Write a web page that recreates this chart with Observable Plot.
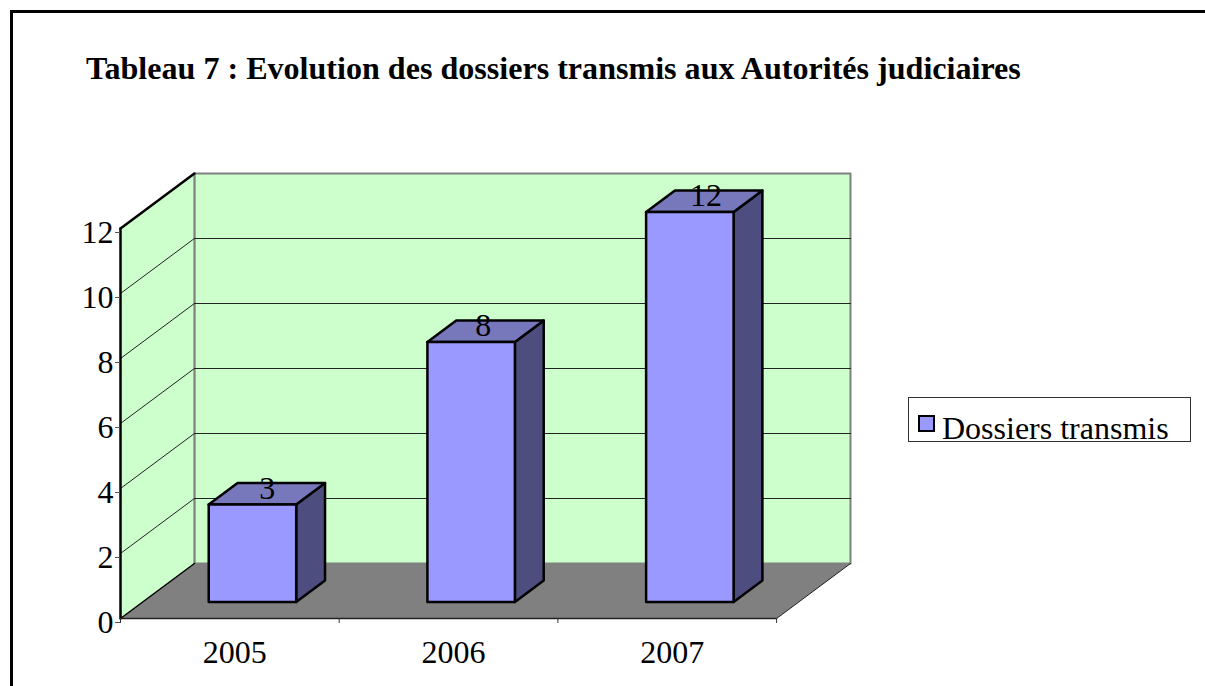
<!DOCTYPE html>
<html lang="fr">
<head>
<meta charset="utf-8">
<title>Tableau 7</title>
<script src="https://cdn.jsdelivr.net/npm/d3@7"></script>
<script src="https://cdn.jsdelivr.net/npm/@observablehq/plot@0.6"></script>
<style>
  html, body { margin: 0; padding: 0; background: #fff; overflow: hidden; }
  #page { position: relative; width: 1205px; height: 686px; font-family: "Liberation Serif", serif; color: #000; }
  #page svg { position: absolute; left: 0; top: 0; background: transparent; }
  #frame { position: absolute; left: 10px; top: 10px; width: 1300px; height: 800px; border-left: 3px solid #000; border-top: 3px solid #000; }
  #title { position: absolute; left: 86px; top: 49px; font-size: 32.1px; font-weight: bold; line-height: 38px; white-space: nowrap; }
  #legend { position: absolute; left: 908px; top: 397px; width: 281px; height: 43px; border: 1px solid #333; background: #fff; }
  #swatch { position: absolute; left: 9px; top: 17px; width: 13px; height: 13px; border: 2px solid #000; background: #9999FF; }
  #legend span { position: absolute; left: 33px; top: 12px; font-size: 32px; line-height: 36px; white-space: nowrap; }
</style>
</head>
<body>
<div id="page">
  <div id="frame"></div>
  <div id="title"></div>
  <div id="legend"><div id="swatch"></div><span></span></div>
</div>
<script>
const titleText = "Tableau 7 : Evolution des dossiers transmis aux Autorités judiciaires";
const seriesName = "Dossiers transmis";
const years = ["2005", "2006", "2007"];
const dossiers = [3, 8, 12];
const yTicks = [0, 2, 4, 6, 8, 10, 12];
const xTicks = [0, 1, 2, 3];

const depthX = 0.338, depthY = 1.692;   // chart depth in category / value units
const barWidth = 0.4, barStart = 0.302; // along a category
const zNear = 0.3, zFar = 0.69;         // along the depth
const labelNudge = [0, -0.012, 0.006];  // sideways shift of each value label

const C = {wall: "#CCFFCC", floor: "#808080", edge: "#808080", front: "#9999FF", top: "#7777BB", side: "#4D4D80"};

// oblique projection, still in data units
const P = (x, v, z) => ({x: x + z * depthX, y: v + z * depthY});
const face = (pts, o) => Plot.line([...pts, pts[0]], {
  x: "x", y: "y", strokeLinejoin: "round", ...o
});
const segment = (a, b, o) => Plot.line([a, b], {x: "x", y: "y", ...o});

const yMax = yTicks[yTicks.length - 1], xMax = xTicks[xTicks.length - 1];

const marks = [
  // back wall
  face([P(0, 0, 1), P(xMax, 0, 1), P(xMax, yMax, 1), P(0, yMax, 1)], {fill: C.wall, stroke: C.edge, strokeWidth: 2}),
  // left wall
  face([P(0, 0, 0), P(0, 0, 1), P(0, yMax, 1), P(0, yMax, 0)], {fill: C.wall, stroke: "none"}),
  segment(P(0, 0, 1), P(0, yMax, 1), {stroke: C.edge, strokeWidth: 2}),
  // gridlines
  ...yTicks.filter(v => v > 0 && v < yMax).flatMap(v => [
    segment(P(0, v, 1), P(xMax, v, 1), {stroke: "#222", strokeWidth: 1}),
    segment(P(0, v, 0), P(0, v, 1), {stroke: "#222", strokeWidth: 1})
  ]),
  // floor
  face([P(0, 0, 0), P(xMax, 0, 0), P(xMax, 0, 1), P(0, 0, 1)], {fill: C.floor, stroke: "none"}),
  segment(P(xMax, 0, 0), P(xMax, 0, 1), {stroke: "#222", strokeWidth: 1}),
  // heavy edges of the left wall
  segment(P(0, 0, 1), P(0, 0, 0), {stroke: "#000", strokeWidth: 1.5}),
  segment(P(0, 0, 0), P(0, yMax, 0), {stroke: "#000", strokeWidth: 2.5}),
  segment(P(0, yMax, 0), P(0, yMax, 1), {stroke: "#000", strokeWidth: 2.5}),
  segment(P(0, 0, 0), P(xMax, 0, 0), {stroke: "#222", strokeWidth: 1.5}),
  // bars
  ...dossiers.flatMap((v, i) => {
    const x0 = i + barStart, x1 = x0 + barWidth;
    const o = {stroke: "#000", strokeWidth: 2.5};
    return [
      face([P(x1, 0, zNear), P(x1, 0, zFar), P(x1, v, zFar), P(x1, v, zNear)], {fill: C.side, ...o}),
      face([P(x0, v, zNear), P(x1, v, zNear), P(x1, v, zFar), P(x0, v, zFar)], {fill: C.top, ...o}),
      face([P(x0, 0, zNear), P(x1, 0, zNear), P(x1, v, zNear), P(x0, v, zNear)], {fill: C.front, ...o})
    ];
  }),
  // value labels
  Plot.text(dossiers, {
    x: (v, i) => P(i + barStart + barWidth / 2 + labelNudge[i], v, 0.5).x,
    y: (v, i) => P(i + barStart + barWidth / 2, v, 0.5).y,
    text: d => String(d), fontSize: 32, fill: "#000", lineAnchor: "bottom", dy: 5
  }),
  // axes
  Plot.axisY({ticks: yTicks, tickSize: 5, tickPadding: 2, dy: 4, fontSize: 32, label: null, stroke: "#555", fill: "#000"}),
  Plot.axisX({ticks: xTicks, tickSize: 5, tickFormat: () => "", label: null, stroke: "#333"}),
  Plot.text(years, {
    x: (d, i) => i + 0.5, y: () => 0, text: d => d, fontSize: 32, fill: "#000",
    lineAnchor: "top", dx: 5, dy: 22
  })
];

const chart = Plot.plot({
  width: 1205, height: 686,
  marginLeft: 120, marginRight: 355, marginTop: 173, marginBottom: 68,
  x: {type: "linear", domain: [0, xMax + depthX], axis: null},
  y: {type: "linear", domain: [0, yMax + depthY], axis: null},
  style: {fontFamily: "'Liberation Serif', serif", background: "transparent", overflow: "visible"},
  marks
});
document.getElementById("page").appendChild(chart);
document.getElementById("title").textContent = titleText;
document.querySelector("#legend span").textContent = seriesName;
</script>
</body>
</html>
